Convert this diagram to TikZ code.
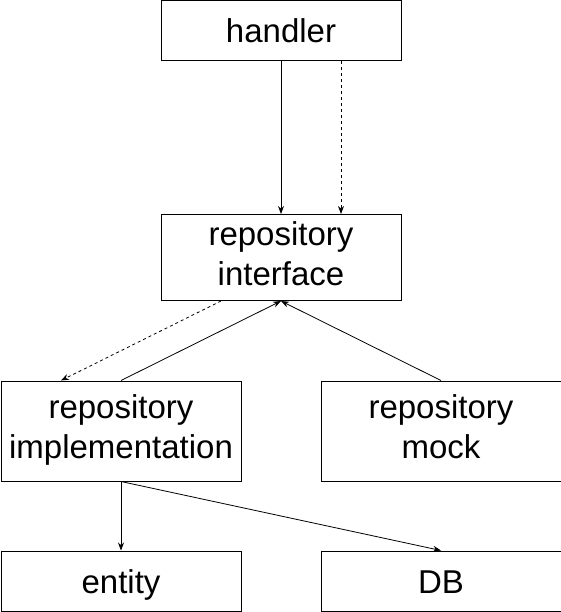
\documentclass[tikz,border=0pt]{standalone}
\usepackage{fontspec}
\setmainfont{Liberation Sans}
\usetikzlibrary{arrows.meta}
\newcommand{\boxstrut}{\rule[-8pt]{0pt}{40pt}}

\begin{document}
\begin{tikzpicture}[x=1pt,y=-1pt,
        box/.style={draw,line width=1pt,minimum width=240pt,inner sep=0pt,align=center,
            font=\fontsize{33}{40}\selectfont,
            execute at begin node=\boxstrut,execute at end node=\boxstrut},
        link/.style={line width=0.8pt,-{Stealth[length=8pt,width=6pt]}},
        weak/.style={link,dash pattern=on 3pt off 3pt}]
    \useasboundingbox (0,0) rectangle (561,612);

    % Level 0
    \node[box,minimum height=60pt] (handler) at (281,31) {handler};

    % Level 1
    \node[box,minimum height=86pt] (iface) at (281,257.5) {repository\\interface};

    % Level 2
    \node[box,minimum height=100pt] (impl) at (121,431) {repository\\implementation};
    \node[box,minimum height=100pt] (mock) at (441,431) {repository\\mock};

    % Level 3
    \node[box,minimum height=60pt] (entity) at (121,581) {entity};
    \node[box,minimum height=60pt] (db) at (441,581) {DB};

    % Edges
    \draw[link] (handler.south) -- (iface.north);
    \draw[weak] ([xshift=60pt]handler.south) -- ([xshift=60pt]iface.north);
    \draw[weak] ([xshift=-60pt]iface.south) -- ([xshift=-60pt]impl.north);
    \draw[link] (impl.north) -- (iface.south);
    \draw[link] (mock.north) -- (iface.south);
    \draw[link] (impl.south) -- (entity.north);
    \draw[link] (impl.south) -- (db.north);
\end{tikzpicture}
\end{document}
